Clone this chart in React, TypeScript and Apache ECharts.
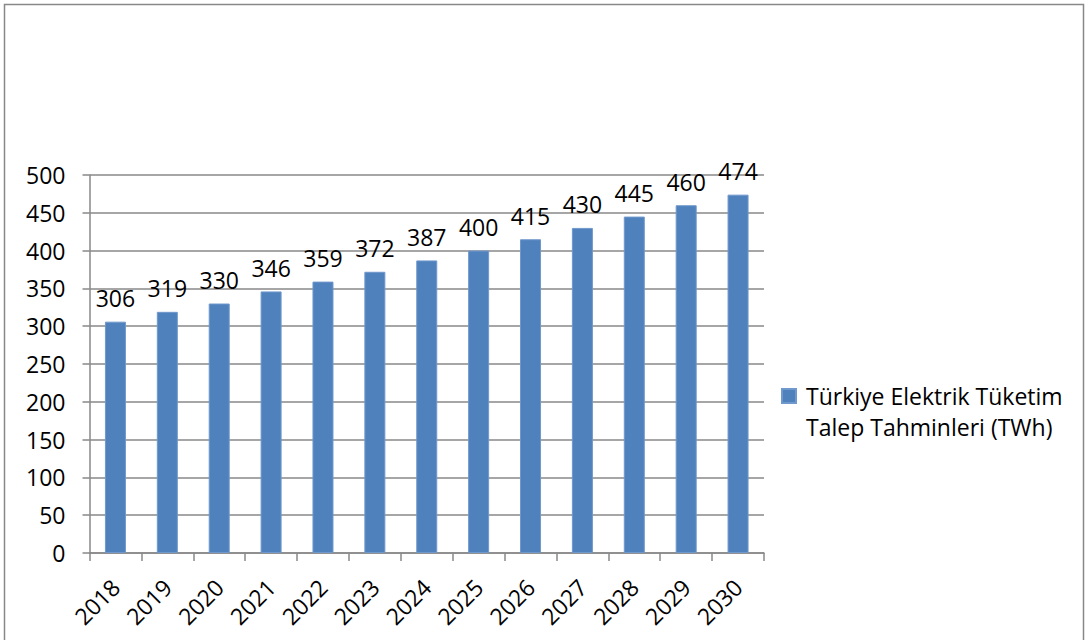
import React, { useEffect, useRef } from "react";
import * as echarts from "echarts";

const years = ["2018", "2019", "2020", "2021", "2022", "2023", "2024", "2025", "2026", "2027", "2028", "2029", "2030"];
const demand = [306, 319, 330, 346, 359, 372, 387, 400, 415, 430, 445, 460, 474];
const seriesName = "Türkiye Elektrik Tüketim\nTalep Tahminleri (TWh)";

const FONT = "'Open Sans', sans-serif";
const GRAY = "#888888";
const FS = 23;

export default function App() {
  const ref = useRef<HTMLDivElement>(null);
  useEffect(() => {
    if (!ref.current) return;
    const chart = echarts.init(ref.current, null, { renderer: "svg" });
    chart.setOption({
      animation: false,
      backgroundColor: "#ffffff",
      textStyle: { fontFamily: FONT },
      grid: { left: 89.5, right: 322, top: 175, bottom: 87, containLabel: false },
      graphic: [
        {
          type: "rect",
          shape: { x: 4.5, y: 4.5, width: 1079, height: 660 },
          style: { fill: "none", stroke: GRAY, lineWidth: 1.5 },
          silent: true,
        },
      ],
      legend: {
        show: true,
        orient: "vertical",
        left: 781,
        top: 349.5,
        padding: 0,
        itemWidth: 14,
        itemHeight: 14,
        icon: "rect",
        selectedMode: false,
        formatter: (name: string) => "\n" + name,
        textStyle: {
          fontFamily: FONT,
          fontSize: FS,
          lineHeight: 31,
          color: "#000",
          padding: [0, 0, 0, 5],
        },
      },
      xAxis: {
        type: "category",
        data: years,
        axisLine: { lineStyle: { color: GRAY, width: 1.5 } },
        axisTick: { show: true, length: 8, lineStyle: { color: GRAY, width: 1.5 } },
        axisLabel: { rotate: 45, margin: 30, fontSize: FS, color: "#000", fontFamily: FONT },
      },
      yAxis: {
        type: "value",
        min: 0,
        max: 500,
        interval: 50,
        axisLine: { show: true, lineStyle: { color: GRAY, width: 1.5 } },
        axisTick: { show: true, length: 7, lineStyle: { color: GRAY, width: 1.5 } },
        splitLine: { show: true, lineStyle: { color: GRAY, width: 1.5 } },
        axisLabel: { margin: 24, fontSize: FS, color: "#000", fontFamily: FONT },
      },
      series: [
        {
          name: seriesName,
          type: "bar",
          data: demand,
          barWidth: 21,
          itemStyle: { color: "#4F81BD", borderColor: "#6F98CC", borderWidth: 1 },
          label: {
            show: true,
            position: "top",
            distance: 12,
            fontSize: FS,
            color: "#000",
            fontFamily: FONT,
          },
        },
      ],
    });
    return () => chart.dispose();
  }, []);
  return (
    <div
      ref={ref}
      style={{ position: "fixed", left: 0, top: 0, width: 1086, height: 640 }}
    />
  );
}
